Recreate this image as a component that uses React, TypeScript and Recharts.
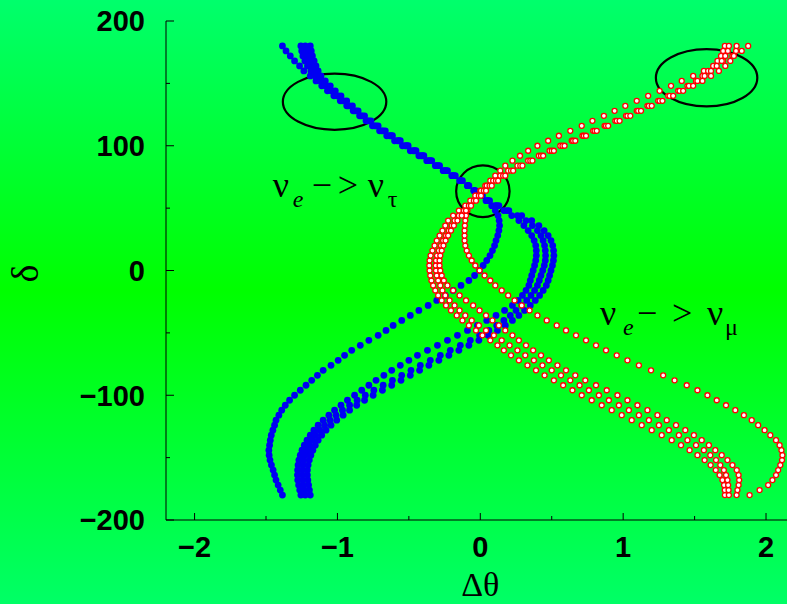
import React from 'react';
import { ScatterChart, Scatter, XAxis, YAxis, ReferenceArea, ReferenceDot } from 'recharts';

// CP phase δ (degrees) sampled along every curve
const DELTA = [-180, -176, -172, -168, -164, -160, -156, -152, -148, -144, -140, -136, -132, -128, -124, -120, -116, -112, -108, -104, -100, -96, -92, -88, -84, -80, -76, -72, -68, -64, -60, -56, -52, -48, -44, -40, -36, -32, -28, -24, -20, -16, -12, -8, -4, 0, 4, 8, 12, 16, 20, 24, 28, 32, 36, 40, 44, 48, 52, 56, 60, 64, 68, 72, 76, 80, 84, 88, 92, 96, 100, 104, 108, 112, 116, 120, 124, 128, 132, 136, 140, 144, 148, 152, 156, 160, 164, 168, 172, 176, 180];

// ν_e -> ν_τ curves (Δθ)
const TAU_1 = [-1.385, -1.4, -1.415, -1.43, -1.44, -1.45, -1.462, -1.472, -1.478, -1.48, -1.475, -1.47, -1.463, -1.452, -1.44, -1.43, -1.41, -1.39, -1.365, -1.335, -1.3, -1.26, -1.22, -1.18, -1.14, -1.1, -1.045, -0.995, -0.95, -0.9, -0.84, -0.78, -0.715, -0.66, -0.61, -0.55, -0.49, -0.43, -0.365, -0.305, -0.245, -0.19, -0.135, -0.08, -0.04, -0.005, 0.02, 0.045, 0.068, 0.085, 0.1, 0.11, 0.122, 0.13, 0.135, 0.132, 0.124, 0.105, 0.08, 0.04, 0.0, -0.045, -0.09, -0.145, -0.2, -0.26, -0.315, -0.375, -0.43, -0.49, -0.545, -0.6, -0.655, -0.705, -0.755, -0.8, -0.845, -0.89, -0.935, -0.98, -1.025, -1.07, -1.11, -1.15, -1.19, -1.235, -1.265, -1.3, -1.33, -1.36, -1.385];
const TAU_2 = [-1.256, -1.264, -1.272, -1.278, -1.28, -1.279, -1.276, -1.27, -1.26, -1.248, -1.232, -1.213, -1.19, -1.165, -1.135, -1.1, -1.06, -1.02, -0.975, -0.93, -0.88, -0.83, -0.78, -0.73, -0.675, -0.62, -0.56, -0.5, -0.44, -0.37, -0.3, -0.23, -0.16, -0.09, -0.02, 0.045, 0.11, 0.17, 0.225, 0.265, 0.295, 0.32, 0.34, 0.35, 0.36, 0.37, 0.38, 0.388, 0.392, 0.392, 0.388, 0.377, 0.36, 0.335, 0.305, 0.27, 0.22, 0.165, 0.105, 0.05, 0.0, -0.045, -0.09, -0.14, -0.195, -0.25, -0.305, -0.36, -0.415, -0.47, -0.525, -0.58, -0.635, -0.69, -0.74, -0.79, -0.835, -0.88, -0.925, -0.965, -1.005, -1.045, -1.085, -1.12, -1.155, -1.185, -1.21, -1.228, -1.242, -1.25, -1.256];
const TAU_3 = [-1.225, -1.232, -1.238, -1.243, -1.245, -1.245, -1.242, -1.236, -1.226, -1.213, -1.196, -1.176, -1.152, -1.123, -1.09, -1.052, -1.01, -0.965, -0.915, -0.862, -0.805, -0.745, -0.68, -0.615, -0.55, -0.485, -0.42, -0.35, -0.28, -0.21, -0.14, -0.07, -0.005, 0.06, 0.115, 0.165, 0.21, 0.25, 0.29, 0.325, 0.355, 0.38, 0.4, 0.413, 0.425, 0.437, 0.448, 0.455, 0.457, 0.455, 0.45, 0.44, 0.425, 0.4, 0.365, 0.32, 0.26, 0.185, 0.115, 0.055, 0.005, -0.04, -0.085, -0.135, -0.185, -0.24, -0.295, -0.35, -0.405, -0.46, -0.515, -0.57, -0.625, -0.68, -0.73, -0.78, -0.825, -0.87, -0.915, -0.955, -0.995, -1.035, -1.075, -1.11, -1.14, -1.165, -1.185, -1.2, -1.21, -1.218, -1.225];
const TAU_4 = [-1.19, -1.196, -1.202, -1.207, -1.21, -1.21, -1.205, -1.197, -1.186, -1.172, -1.155, -1.135, -1.11, -1.08, -1.045, -1.005, -0.96, -0.915, -0.865, -0.81, -0.75, -0.685, -0.62, -0.555, -0.49, -0.425, -0.36, -0.29, -0.22, -0.15, -0.08, -0.01, 0.055, 0.12, 0.175, 0.225, 0.27, 0.31, 0.35, 0.385, 0.415, 0.44, 0.462, 0.475, 0.485, 0.495, 0.505, 0.512, 0.515, 0.513, 0.507, 0.495, 0.475, 0.447, 0.41, 0.36, 0.29, 0.2, 0.13, 0.065, 0.015, -0.035, -0.08, -0.125, -0.175, -0.23, -0.285, -0.34, -0.395, -0.45, -0.505, -0.56, -0.615, -0.665, -0.715, -0.765, -0.81, -0.855, -0.895, -0.935, -0.975, -1.015, -1.05, -1.085, -1.115, -1.135, -1.15, -1.163, -1.175, -1.183, -1.19];

// ν_e -> ν_μ curves (Δθ)
const MU_1 = [1.885, 1.955, 2.015, 2.045, 2.07, 2.085, 2.1, 2.112, 2.115, 2.108, 2.095, 2.07, 2.03, 1.99, 1.945, 1.9, 1.845, 1.785, 1.72, 1.655, 1.59, 1.52, 1.445, 1.36, 1.28, 1.195, 1.11, 1.03, 0.955, 0.88, 0.81, 0.74, 0.67, 0.6, 0.535, 0.465, 0.4, 0.345, 0.29, 0.24, 0.195, 0.15, 0.105, 0.07, 0.03, -0.005, -0.035, -0.06, -0.08, -0.095, -0.105, -0.11, -0.11, -0.11, -0.108, -0.105, -0.1, -0.09, -0.075, -0.055, -0.03, 0.0, 0.035, 0.07, 0.105, 0.14, 0.175, 0.225, 0.278, 0.335, 0.4, 0.475, 0.55, 0.63, 0.71, 0.785, 0.865, 0.94, 1.015, 1.095, 1.175, 1.255, 1.335, 1.41, 1.49, 1.565, 1.635, 1.7, 1.765, 1.83, 1.875];
const MU_2 = [1.712, 1.711, 1.706, 1.695, 1.675, 1.648, 1.612, 1.57, 1.52, 1.465, 1.405, 1.34, 1.27, 1.2, 1.13, 1.06, 0.99, 0.92, 0.85, 0.78, 0.71, 0.645, 0.58, 0.515, 0.45, 0.39, 0.33, 0.27, 0.215, 0.165, 0.12, 0.07, 0.015, -0.03, -0.08, -0.125, -0.165, -0.205, -0.24, -0.27, -0.295, -0.315, -0.33, -0.342, -0.35, -0.355, -0.357, -0.355, -0.348, -0.335, -0.32, -0.305, -0.285, -0.265, -0.245, -0.225, -0.19, -0.15, -0.105, -0.07, -0.035, 0.005, 0.045, 0.09, 0.14, 0.195, 0.26, 0.335, 0.41, 0.485, 0.56, 0.64, 0.715, 0.79, 0.87, 0.945, 1.02, 1.095, 1.17, 1.245, 1.315, 1.385, 1.45, 1.51, 1.555, 1.595, 1.63, 1.66, 1.685, 1.7, 1.712];
const MU_3 = [1.74, 1.738, 1.735, 1.73, 1.72, 1.705, 1.68, 1.65, 1.61, 1.565, 1.51, 1.45, 1.39, 1.32, 1.25, 1.18, 1.11, 1.04, 0.97, 0.9, 0.83, 0.76, 0.695, 0.63, 0.565, 0.5, 0.435, 0.375, 0.315, 0.26, 0.205, 0.15, 0.095, 0.04, -0.01, -0.06, -0.105, -0.145, -0.18, -0.215, -0.245, -0.265, -0.28, -0.295, -0.305, -0.31, -0.312, -0.31, -0.303, -0.29, -0.275, -0.26, -0.24, -0.22, -0.2, -0.18, -0.15, -0.115, -0.08, -0.045, -0.01, 0.025, 0.065, 0.11, 0.16, 0.215, 0.28, 0.35, 0.425, 0.5, 0.575, 0.65, 0.725, 0.8, 0.88, 0.955, 1.03, 1.105, 1.18, 1.255, 1.325, 1.395, 1.46, 1.52, 1.57, 1.615, 1.655, 1.69, 1.715, 1.733, 1.74];
const MU_4 = [1.794, 1.8, 1.808, 1.812, 1.808, 1.795, 1.765, 1.73, 1.69, 1.645, 1.6, 1.55, 1.495, 1.435, 1.37, 1.305, 1.24, 1.17, 1.1, 1.03, 0.96, 0.885, 0.81, 0.735, 0.665, 0.6, 0.54, 0.48, 0.425, 0.37, 0.32, 0.27, 0.225, 0.175, 0.13, 0.085, 0.04, -0.005, -0.05, -0.1, -0.145, -0.19, -0.23, -0.255, -0.27, -0.28, -0.285, -0.285, -0.28, -0.27, -0.258, -0.243, -0.225, -0.205, -0.185, -0.16, -0.13, -0.1, -0.065, -0.03, 0.005, 0.04, 0.08, 0.125, 0.175, 0.23, 0.295, 0.365, 0.44, 0.515, 0.59, 0.665, 0.74, 0.815, 0.895, 0.975, 1.05, 1.125, 1.2, 1.275, 1.35, 1.42, 1.49, 1.555, 1.615, 1.67, 1.715, 1.75, 1.775, 1.79, 1.794];

const X_TICKS = [-2, -1.5, -1, -0.5, 0, 0.5, 1, 1.5, 2];
const Y_TICKS = [-200, -150, -100, -50, 0, 50, 100, 150, 200];

// highlighted regions (data coordinates of the bounding boxes)
const ELLIPSE_X1 = [-1.382, -0.169, 1.229];
const ELLIPSE_X2 = [-0.658, 0.205, 1.939];
const ELLIPSE_Y1 = [112.8, 42.8, 131.5];
const ELLIPSE_Y2 = [157.8, 84.2, 177.5];

// annotation anchors (data coordinates)
const LABEL_TAU = { x: -1.452, y: 58.9 };
const LABEL_MU = { x: 0.837, y: -43.7 };

const toPoints = (xs: number[]) => DELTA.map((d, i) => ({ x: xs[i], y: d }));

const TAU_SERIES = [TAU_1, TAU_2, TAU_3, TAU_4];
const MU_SERIES = [MU_1, MU_2, MU_3, MU_4];

const SANS = '"Liberation Sans", Arial, Helvetica, sans-serif';
const SERIF = '"Liberation Serif", "Times New Roman", Times, serif';

const fmt = (v: number) => (v < 0 ? '\u2212' + Math.abs(v) : String(v));

const BottomTick = (props: any) => {
  const { x, y, payload } = props;
  const v = payload.value;
  const major = Number.isInteger(v);
  return (
    <g>
      <line x1={x} x2={x} y1={y} y2={y - (major ? 7 : 4)} stroke="#000" strokeWidth={1} />
      {major && (
        <text x={x} y={y + 37} textAnchor="middle" fontFamily={SANS} fontWeight="bold" fontSize={29} fill="#000">
          {fmt(v)}
        </text>
      )}
    </g>
  );
};

const TopTick = (props: any) => {
  const { x, y, payload } = props;
  const major = Number.isInteger(payload.value);
  return <line x1={x} x2={x} y1={y} y2={y + (major ? 7 : 4)} stroke="#000" strokeWidth={1} />;
};

const LeftTick = (props: any) => {
  const { x, y, payload } = props;
  const v = payload.value;
  const major = v % 100 === 0;
  return (
    <g>
      <line x1={x} x2={x + (major ? 8 : 4)} y1={y} y2={y} stroke="#000" strokeWidth={1} />
      {major && (
        <text x={x - 21} y={y} dy="0.36em" textAnchor="end" fontFamily={SANS} fontWeight="bold" fontSize={29} fill="#000">
          {fmt(v)}
        </text>
      )}
    </g>
  );
};

const XTitle = (props: any) => {
  const vb = props.viewBox || {};
  return (
    <text x={vb.x + vb.width / 2} y={vb.y + 76} textAnchor="middle" fontFamily={SERIF} fontSize={34} fill="#000">
      Δθ
    </text>
  );
};

const YTitle = (props: any) => {
  const vb = props.viewBox || {};
  const cy = vb.y + vb.height / 2 + 3;
  return (
    <text x={38} y={cy} textAnchor="middle" fontFamily={SERIF} fontSize={38} fill="#000" transform={`rotate(-90, 38, ${cy})`}>
      δ
    </text>
  );
};

const BlueDot = (p: any) => <circle cx={p.cx} cy={p.cy} r={3.4} fill="#0000f2" />;
const RedDot = (p: any) => (
  <circle cx={p.cx} cy={p.cy} r={2.5} fill="#ffffff" stroke="#ff0000" strokeWidth={1.3} />
);

const EllipseShape = (p: any) => (
  <ellipse
    cx={p.x + p.width / 2}
    cy={p.y + p.height / 2}
    rx={Math.abs(p.width) / 2}
    ry={Math.abs(p.height) / 2}
    fill="none"
    stroke="#000"
    strokeWidth={2.2}
  />
);

const Arrow = (props: any) => {
  const { cx, cy, sub1, sub2, offs } = props;
  return (
    <g fontFamily={SERIF} fill="#000">
      <text x={cx + offs[0]} y={cy} fontSize={36}>ν</text>
      <text x={cx + offs[1]} y={cy + 10} fontSize={24} fontStyle="italic">{sub1}</text>
      <text x={cx + offs[2]} y={cy} fontSize={36}>−</text>
      <text x={cx + offs[3]} y={cy} fontSize={36}>&gt;</text>
      <text x={cx + offs[4]} y={cy} fontSize={36}>ν</text>
      <text x={cx + offs[5]} y={cy + 10} fontSize={24}>{sub2}</text>
    </g>
  );
};

export default function App() {
  return (
    <div
      style={{
        position: 'absolute',
        left: 0,
        top: 0,
        width: 787,
        height: 604,
        overflow: 'hidden',
        background: 'linear-gradient(to bottom, #00ff6c 0%, #00ff00 48%, #00ff66 100%)',
      }}
    >
      <ScatterChart width={800} height={604} margin={{ top: 21, right: 5.4, bottom: 0, left: 0 }}>
        <XAxis
          xAxisId="top"
          orientation="top"
          type="number"
          dataKey="x"
          domain={[-2.2, 2.2]}
          allowDataOverflow
          ticks={X_TICKS}
          height={0}
          tickSize={0}
          tickMargin={0}
          tickLine={false}
          tick={<TopTick />}
          axisLine={{ stroke: '#000', strokeWidth: 1 }}
        />
        <XAxis
          type="number"
          dataKey="x"
          domain={[-2.2, 2.2]}
          allowDataOverflow
          ticks={X_TICKS}
          height={84}
          tickSize={0}
          tickMargin={0}
          tickLine={false}
          tick={<BottomTick />}
          axisLine={{ stroke: '#000', strokeWidth: 1 }}
          label={<XTitle />}
        />
        <YAxis
          type="number"
          dataKey="y"
          domain={[-200, 200]}
          allowDataOverflow
          ticks={Y_TICKS}
          width={166}
          tickSize={0}
          tickMargin={0}
          tickLine={false}
          tick={<LeftTick />}
          axisLine={{ stroke: '#000', strokeWidth: 1 }}
          label={<YTitle />}
        />
        {TAU_SERIES.map((s, i) => (
          <Scatter key={'t' + i} data={toPoints(s)} shape={BlueDot} isAnimationActive={false} />
        ))}
        {MU_SERIES.map((s, i) => (
          <Scatter key={'m' + i} data={toPoints(s)} shape={RedDot} isAnimationActive={false} />
        ))}
        {ELLIPSE_X1.map((x1, i) => (
          <ReferenceArea
            key={'e' + i}
            x1={x1}
            x2={ELLIPSE_X2[i]}
            y1={ELLIPSE_Y1[i]}
            y2={ELLIPSE_Y2[i]}
            shape={EllipseShape}
          />
        ))}
        <ReferenceDot
          x={LABEL_TAU.x}
          y={LABEL_TAU.y}
          r={0}
          shape={(p: any) => <Arrow cx={p.cx} cy={p.cy} sub1="e" sub2="τ" offs={[0, 20, 39, 65, 95, 115]} />}
        />
        <ReferenceDot
          x={LABEL_MU.x}
          y={LABEL_MU.y}
          r={0}
          shape={(p: any) => <Arrow cx={p.cx} cy={p.cy} sub1="e" sub2="μ" offs={[0, 23, 37, 72, 107, 125]} />}
        />
      </ScatterChart>
    </div>
  );
}
